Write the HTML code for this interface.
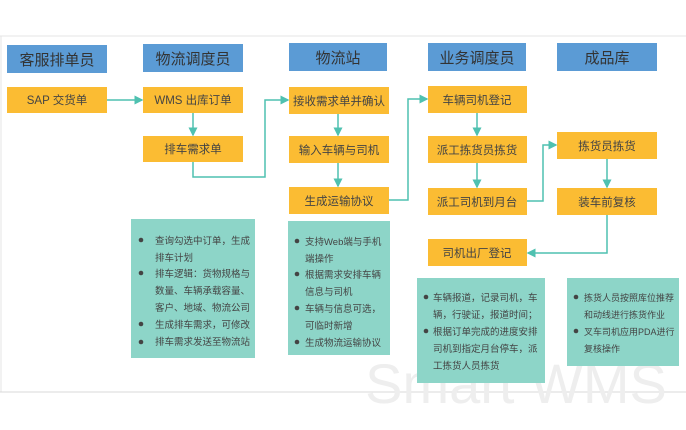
<!DOCTYPE html>
<html><head><meta charset="utf-8"><style>
body{margin:0;background:#fff;}
svg text{font-family:"Liberation Sans","Noto Sans CJK SC",sans-serif;}
</style></head><body>
<svg width="686" height="425" viewBox="0 0 686 425" xmlns="http://www.w3.org/2000/svg">
<defs><marker id="a" markerWidth="6" markerHeight="6" refX="5" refY="3" orient="auto"><path d="M0,0 L6,3 L0,6z" fill="#4fc1b0"/></marker></defs>
<rect x="0" y="0" width="686" height="425" fill="#fff"/>
<line x1="0" y1="36" x2="686" y2="36" stroke="#e4e4e4"/>
<line x1="1" y1="36" x2="1" y2="392" stroke="#e4e4e4"/>
<line x1="0" y1="392" x2="686" y2="392" stroke="#d8d8d8"/>
<text x="516" y="403" font-size="56" fill="#eeeeee" text-anchor="middle">Smart WMS</text>
<g fill="#5b9bd5">
<rect x="7" y="45" width="100" height="28"/><rect x="143" y="44" width="100" height="28"/>
<rect x="289" y="43" width="98" height="28"/><rect x="428" y="43" width="98" height="28"/>
<rect x="557" y="43" width="100" height="28"/>
</g>
<g font-size="15" fill="#333" text-anchor="middle">
<text x="57" y="65">客服排单员</text><text x="193" y="64">物流调度员</text>
<text x="338" y="63">物流站</text><text x="477" y="63">业务调度员</text><text x="607" y="63">成品库</text>
</g>
<g fill="#fbbc33">
<rect x="7" y="87" width="100" height="26"/><rect x="143" y="87" width="100" height="26"/>
<rect x="143" y="136" width="100" height="26"/>
<rect x="289" y="87" width="100" height="27"/><rect x="289" y="136" width="100" height="27"/><rect x="289" y="187" width="100" height="27"/>
<rect x="428" y="86" width="99" height="27"/><rect x="428" y="136" width="99" height="27"/><rect x="428" y="188" width="99" height="27"/><rect x="428" y="239" width="99" height="27"/>
<rect x="557" y="132" width="100" height="27"/><rect x="557" y="188" width="100" height="27"/>
</g>
<g font-size="11.5" fill="#444" text-anchor="middle">
<text x="57" y="104">SAP 交货单</text><text x="193" y="104">WMS 出库订单</text><text x="193" y="153">排车需求单</text>
<text x="339" y="105">接收需求单并确认</text><text x="339" y="154">输入车辆与司机</text><text x="339" y="205">生成运输协议</text>
<text x="477" y="104">车辆司机登记</text><text x="477" y="154">派工拣货员拣货</text><text x="477" y="206">派工司机到月台</text><text x="477" y="257">司机出厂登记</text>
<text x="607" y="150">拣货员拣货</text><text x="607" y="206">装车前复核</text>
</g>
<g stroke="#4fc1b0" stroke-width="1.5" fill="none" marker-end="url(#a)">
<path d="M107,100 H142"/><path d="M193,113 V135"/>
<path d="M193,162 V177 H265 V100 H288"/>
<path d="M338,114 V135"/><path d="M338,163 V186"/>
<path d="M389,200 H408 V99 H427"/>
<path d="M477,113 V135"/><path d="M477,163 V187"/>
<path d="M527,201 H543 V145 H556"/>
<path d="M607,159 V187"/>
<path d="M607,215 V253 H528"/>
</g>
<g fill="#8dd5c8">
<rect x="131" y="219" width="124" height="139"/><rect x="288" y="221" width="102" height="134"/>
<rect x="417" y="278" width="128" height="105"/><rect x="567" y="278" width="112" height="88"/>
</g>
<g font-size="9.5" fill="#444">
<g fill="#444"><circle cx="141" cy="240" r="2.3"/><circle cx="141" cy="273" r="2.3"/><circle cx="141" cy="324" r="2.3"/><circle cx="141" cy="342" r="2.3"/>
<circle cx="297" cy="241" r="2.3"/><circle cx="297" cy="274" r="2.3"/><circle cx="297" cy="308" r="2.3"/><circle cx="297" cy="342" r="2.3"/>
<circle cx="426" cy="297" r="2.3"/><circle cx="426" cy="331" r="2.3"/>
<circle cx="576" cy="297" r="2.3"/><circle cx="576" cy="331" r="2.3"/></g>
<text x="155" y="244">查询勾选中订单，生成</text><text x="155" y="261">排车计划</text>
<text x="155" y="277">排车逻辑：货物规格与</text><text x="155" y="294">数量、车辆承载容量、</text><text x="155" y="311">客户、地域、物流公司</text>
<text x="155" y="328">生成排车需求，可修改</text><text x="155" y="345">排车需求发送至物流站</text>
<text x="305" y="245">支持Web端与手机</text><text x="305" y="262">端操作</text>
<text x="305" y="278">根据需求安排车辆</text><text x="305" y="295">信息与司机</text>
<text x="305" y="312">车辆与信息可选，</text><text x="305" y="329">可临时新增</text>
<text x="305" y="346">生成物流运输协议</text>
<text x="433" y="301">车辆报道，记录司机，车</text><text x="433" y="318">辆，行驶证，报道时间；</text>
<text x="433" y="335">根据订单完成的进度安排</text><text x="433" y="352">司机到指定月台停车，派</text><text x="433" y="369">工拣货人员拣货</text>
<g font-size="9"><text x="584" y="301">拣货人员按照库位推荐</text><text x="584" y="318">和动线进行拣货作业</text>
<text x="584" y="335">叉车司机应用PDA进行</text><text x="584" y="352">复核操作</text></g>
</g>
</svg>
</body></html>
